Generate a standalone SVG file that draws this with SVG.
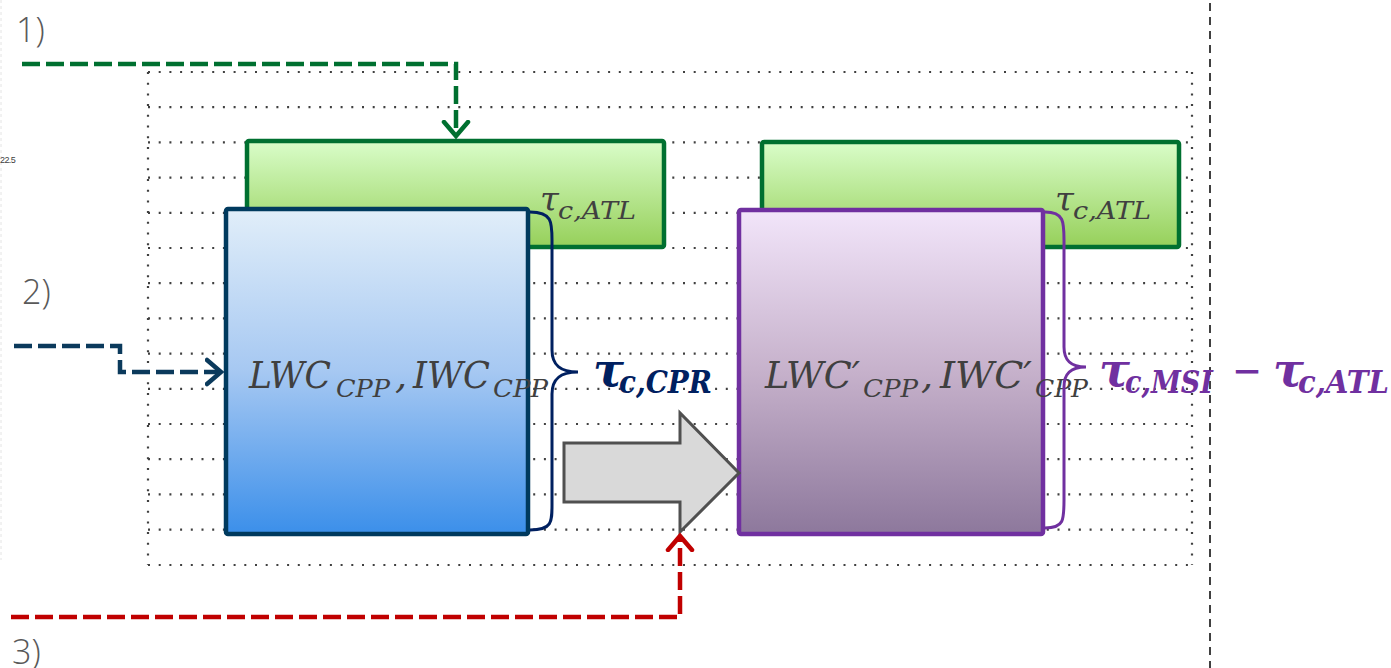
<svg xmlns="http://www.w3.org/2000/svg" width="1391" height="668" viewBox="0 0 1391 668">
<style>
.grid{stroke:#404040;stroke-width:2.2;stroke-dasharray:2 8.7;fill:none}
.lbl{font-family:"Open Sans","Liberation Sans",sans-serif;font-size:34px;fill:#595959;font-weight:300}
.m{font-family:"DejaVu Serif","Liberation Serif",serif;font-style:italic;fill:#404040}
.mb{font-family:"DejaVu Serif","Liberation Serif",serif;font-style:italic;font-weight:bold}
</style>
<defs>
<linearGradient id="gG" x1="0" y1="0" x2="0" y2="1"><stop offset="0" stop-color="#d9fdc9"/><stop offset="1" stop-color="#96d05a"/></linearGradient>
<linearGradient id="gB" x1="0" y1="0" x2="0" y2="1"><stop offset="0" stop-color="#e1eef9"/><stop offset="0.5" stop-color="#a6c8f2"/><stop offset="1" stop-color="#3b8fea"/></linearGradient>
<linearGradient id="gP" x1="0" y1="0" x2="0" y2="1"><stop offset="0" stop-color="#f2e5fa"/><stop offset="0.5" stop-color="#c6b1cb"/><stop offset="1" stop-color="#8d789c"/></linearGradient>
<marker id="aG" markerUnits="userSpaceOnUse" markerWidth="30" markerHeight="30" refX="16" refY="15" orient="auto" viewBox="0 0 30 30"><path d="M2 3 L16 15 L2 27" fill="none" stroke="#007030" stroke-width="4.5" stroke-linecap="round"/></marker>
<marker id="aB" markerUnits="userSpaceOnUse" markerWidth="30" markerHeight="30" refX="16" refY="15" orient="auto" viewBox="0 0 30 30"><path d="M2 3 L16 15 L2 27" fill="none" stroke="#0b3a5c" stroke-width="4.5" stroke-linecap="round"/></marker>
<marker id="aR" markerUnits="userSpaceOnUse" markerWidth="30" markerHeight="30" refX="16" refY="15" orient="auto" viewBox="0 0 30 30"><path d="M2 3 L16 15 L2 27" fill="none" stroke="#c00000" stroke-width="4.5" stroke-linecap="round"/></marker>
</defs>
<rect width="1391" height="668" fill="#ffffff"/>
<line x1="1" y1="0" x2="1" y2="560" stroke="#e4e4e4" stroke-width="1" stroke-dasharray="3 3"/>
<line x1="1210" y1="3" x2="1210" y2="668" stroke="#404040" stroke-width="2" stroke-dasharray="8 6"/>
<g id="grid">
<path class="grid" d="M148 72H1192M148 107.2H1192M148 142.4H1192M148 177.6H1192M148 212.8H1192M148 248H1192M148 283.2H1192M148 318.4H1192M148 353.6H1192M148 388.8H1192M148 424H1192M148 459.2H1192M148 494.4H1192M148 529.6H1192M148 565H1192"/>
<path class="grid" d="M148 72V565M1192 72V565"/>
</g>
<text x="0" y="163" font-family="Liberation Sans,sans-serif" font-size="9" fill="#404040" letter-spacing="-0.6">22.5</text>
<text class="lbl" x="16" y="42">1)</text>
<text class="lbl" x="22" y="304">2)</text>
<text class="lbl" x="12" y="664">3)</text>
<g id="atl1">
<rect x="247" y="141" width="417" height="106" rx="2" fill="url(#gG)" stroke="#007030" stroke-width="4.5"/>
<text class="m" font-size="34"><tspan x="540" y="211">τ</tspan><tspan x="558" y="219" font-size="24" textLength="78" lengthAdjust="spacingAndGlyphs">c,ATL</tspan></text>
</g>
<g id="atl2">
<rect x="762" y="142" width="417" height="105" rx="2" fill="url(#gG)" stroke="#007030" stroke-width="4.5"/>
<text class="m" font-size="34"><tspan x="1055" y="211">τ</tspan><tspan x="1073" y="219" font-size="24" textLength="78" lengthAdjust="spacingAndGlyphs">c,ATL</tspan></text>
</g>
<g id="cpp">
<rect x="226" y="209" width="302" height="325" rx="2" fill="url(#gB)" stroke="#003a5e" stroke-width="4.5"/>
<text class="m" font-size="38"><tspan x="249" y="388" textLength="82" lengthAdjust="spacingAndGlyphs">LWC</tspan><tspan x="336" y="397" font-size="25" textLength="54" lengthAdjust="spacingAndGlyphs">CPP</tspan><tspan x="395" y="388">,</tspan><tspan x="413" y="388" textLength="77" lengthAdjust="spacingAndGlyphs">IWC</tspan><tspan x="493" y="397" font-size="25" textLength="55" lengthAdjust="spacingAndGlyphs">CPP</tspan></text>
</g>
<g id="cpp2">
<rect x="739" y="210" width="304" height="324" rx="2" fill="url(#gP)" stroke="#7030a0" stroke-width="4.5"/>
<text class="m" font-size="38"><tspan x="765" y="388" textLength="95" lengthAdjust="spacingAndGlyphs">LWC′</tspan><tspan x="863" y="397" font-size="25" textLength="55" lengthAdjust="spacingAndGlyphs">CPP</tspan><tspan x="921" y="388">,</tspan><tspan x="940" y="388" textLength="92" lengthAdjust="spacingAndGlyphs">IWC′</tspan><tspan x="1035" y="397" font-size="25" textLength="53" lengthAdjust="spacingAndGlyphs">CPP</tspan></text>
</g>
<g id="braceB">
<path d="M530 212 C552 212 552 222 552 240 L552 350 C552 365 560 372 578 372 C560 372 552 379 552 394 L552 505 C552 522 552 530 530 530" fill="none" stroke="#002060" stroke-width="3"/>
<text class="mb" fill="#002060" font-size="46"><tspan x="593" y="386">τ</tspan><tspan x="619" y="393" font-size="32" textLength="93" lengthAdjust="spacingAndGlyphs">c,CPR</tspan></text>
</g>
<g id="braceP">
<path d="M1045 212 C1064 212 1064 222 1064 240 L1064 347 C1064 360 1070 367 1086 367 C1070 367 1064 374 1064 387 L1064 500 C1064 520 1064 528 1045 528" fill="none" stroke="#7030a0" stroke-width="3"/>
<text class="mb" fill="#7030a0" font-size="46"><tspan x="1099" y="386">τ</tspan><tspan x="1125" y="393" font-size="32" textLength="88" lengthAdjust="spacingAndGlyphs">c,MSI</tspan><tspan x="1232" y="386" font-style="normal" font-weight="normal" textLength="30" lengthAdjust="spacingAndGlyphs">−</tspan><tspan x="1273" y="386">τ</tspan><tspan x="1298" y="393" font-size="32" textLength="91" lengthAdjust="spacingAndGlyphs">c,ATL</tspan></text>
</g>
<g id="transfer">
<path d="M564 443 H680 V413 L739 473 L680 532 V502 H564 Z" fill="#d9d9d9" stroke="#505050" stroke-width="3" stroke-linejoin="miter"/>
</g>
<g id="connectors" fill="none" stroke-width="4.5" stroke-dasharray="18 6">
<path d="M22 64 H456 V136" stroke="#007030" marker-end="url(#aG)"/>
<path d="M14 346 H120 V372 H221" stroke="#0b3a5c" marker-end="url(#aB)"/>
<path d="M11 617 H680 V536" stroke="#c00000" marker-end="url(#aR)"/>
</g>
</svg>
